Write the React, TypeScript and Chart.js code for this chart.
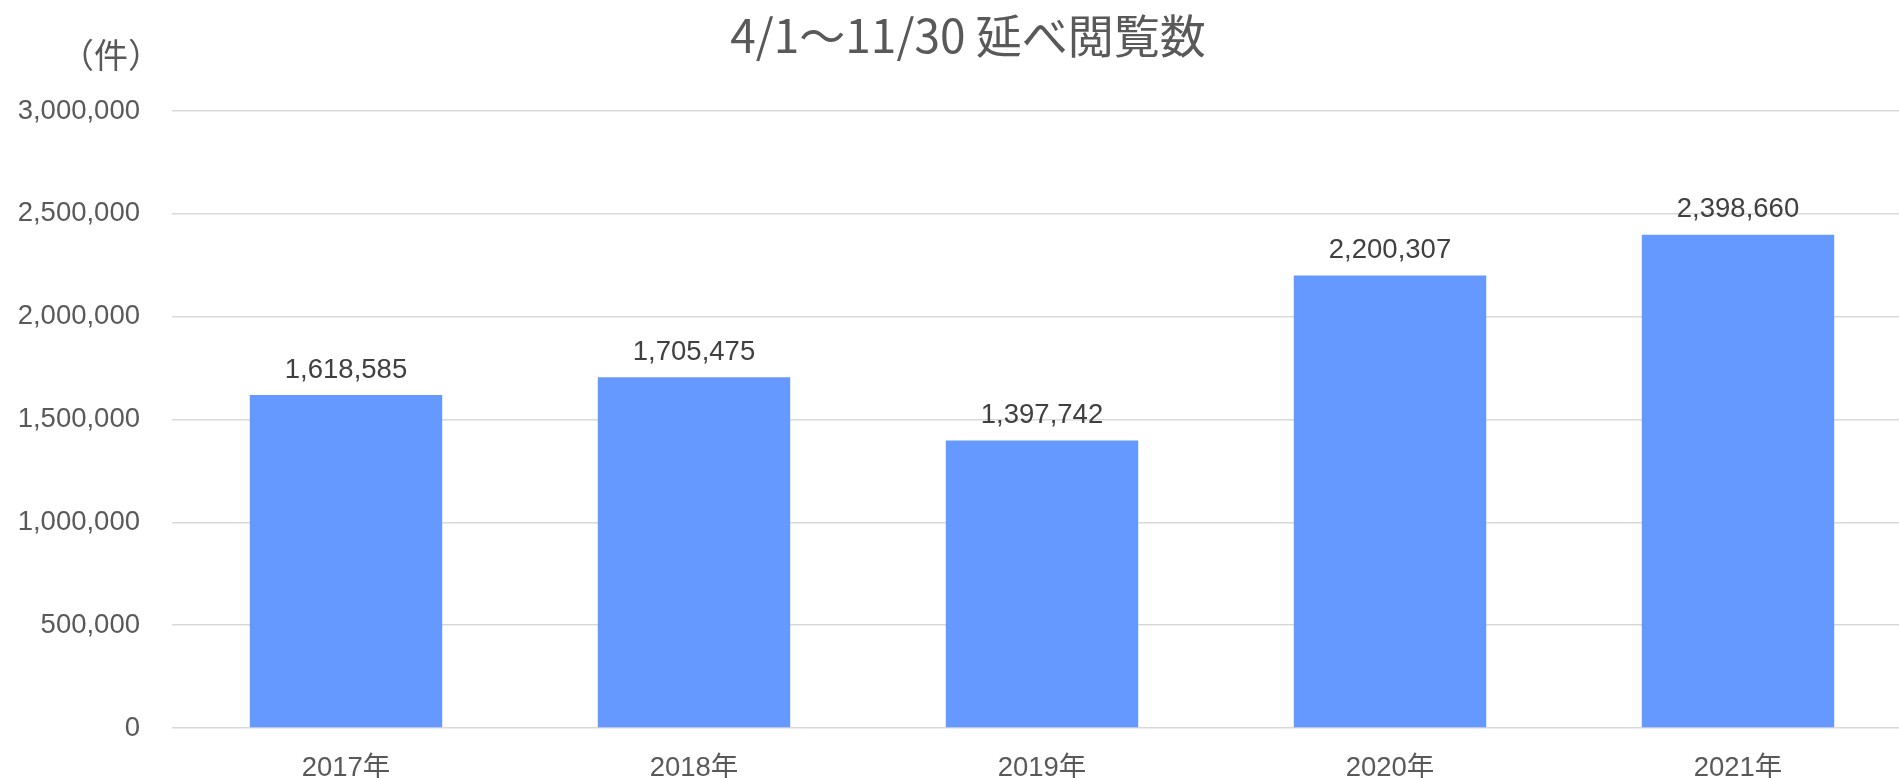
import React, { useEffect, useRef } from 'react';
import { Chart, registerables } from 'chart.js';

Chart.register(...registerables);

const categories = ['2017年', '2018年', '2019年', '2020年', '2021年'];
const views = [1618585, 1705475, 1397742, 2200307, 2398660];
const yMin = 0;
const yMax = 3000000;
const yStep = 500000;
const chartTitle = '4/1～11/30 延べ閲覧数';
const unitLabel = '（件）';

const LATIN = "'Liberation Sans', Arial, 'Noto Sans CJK JP', sans-serif";
const CJK = "'Noto Sans CJK JP', 'Liberation Sans', sans-serif";

const fmt = (v: number) => v.toLocaleString('en-US');

const textPlugin = {
  id: 'extraTexts',
  afterDatasetsDraw(chart: any) {
    const ctx = chart.ctx as CanvasRenderingContext2D;
    const meta = chart.getDatasetMeta(0);
    ctx.save();
    ctx.font = `27.5px ${LATIN}`;
    ctx.fillStyle = '#404040';
    ctx.textAlign = 'center';
    ctx.textBaseline = 'middle';
    meta.data.forEach((bar: any, i: number) => {
      ctx.fillText(fmt(views[i]), bar.x, bar.y - 25);
    });
    ctx.font = `46px ${CJK}`;
    ctx.fillStyle = '#595959';
    ctx.fillText(chartTitle, 968, 36);
    ctx.font = `34px ${CJK}`;
    ctx.textAlign = 'right';
    ctx.fillText(unitLabel, 162, 55);
    ctx.restore();
  },
};

export default function App() {
  const ref = useRef<HTMLCanvasElement | null>(null);

  useEffect(() => {
    document.body.style.margin = '0';
    const canvas = ref.current!;
    const chart = new Chart(canvas, {
      type: 'bar',
      data: {
        labels: categories,
        datasets: [
          {
            data: views,
            backgroundColor: '#6699ff',
            borderWidth: 0,
            barPercentage: 0.553,
            categoryPercentage: 1,
          },
        ],
      },
      options: {
        responsive: false,
        animation: false,
        devicePixelRatio: 1,
        layout: { padding: { top: 111, left: 0, right: 0, bottom: 0 } },
        plugins: {
          legend: { display: false },
          title: { display: false },
          tooltip: { enabled: false },
        },
        scales: {
          x: {
            grid: { display: false },
            border: { display: false },
            ticks: {
              color: '#595959',
              font: { family: LATIN, size: 27.5 },
              padding: 16,
              maxRotation: 0,
            },
            afterFit: (s: any) => {
              s.height = 50;
            },
          },
          y: {
            min: yMin,
            max: yMax,
            border: { display: false },
            grid: { color: '#d9d9d9', lineWidth: 1.5, drawTicks: false },
            ticks: {
              stepSize: yStep,
              color: '#595959',
              font: { family: LATIN, size: 27.5 },
              padding: 32,
              callback: (v: any) => fmt(Number(v)),
            },
            afterFit: (s: any) => {
              s.width = 172;
            },
          },
        },
      },
      plugins: [textPlugin],
    });
    return () => chart.destroy();
  }, []);

  return (
    <div style={{ width: 1899, height: 778, overflow: 'hidden', position: 'relative' }}>
      <canvas ref={ref} width={1912} height={778} style={{ display: 'block', width: 1912, height: 778 }} />
    </div>
  );
}
